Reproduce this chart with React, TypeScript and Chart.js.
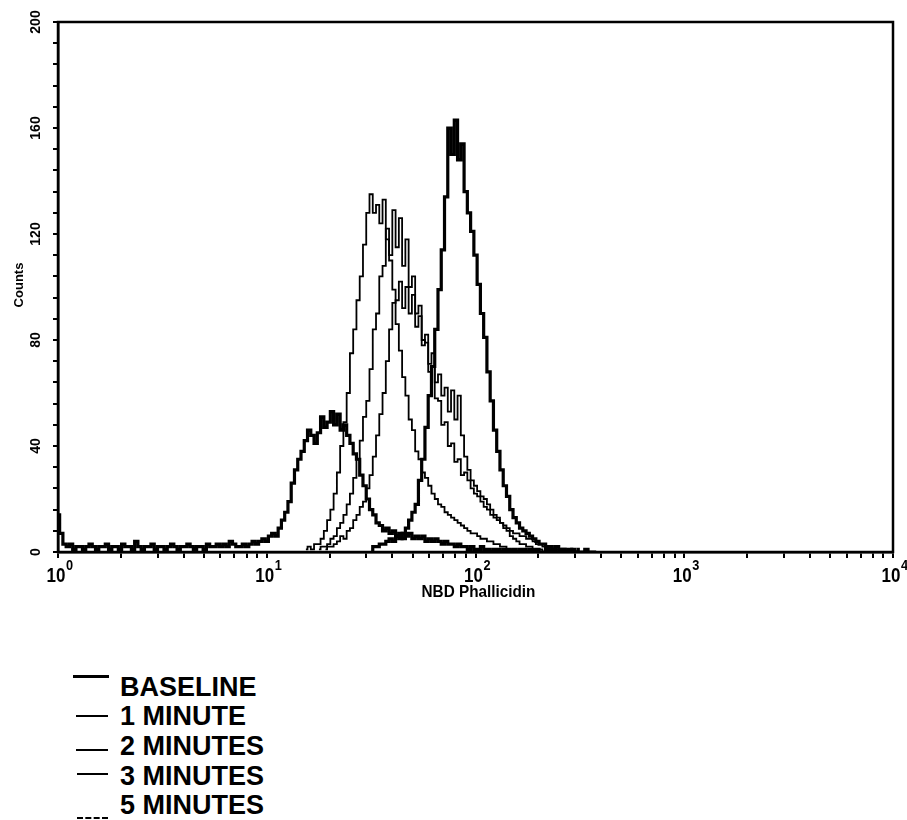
import React, { useEffect, useRef } from 'react';
import { Chart, registerables } from 'chart.js';

Chart.register(...registerables);

// ---------------- data ----------------
const SERIES_LABELS = ['BASELINE', '1 MINUTE', '2 MINUTES', '3 MINUTES', '5 MINUTES'];
const X_TITLE = 'NBD Phallicidin';
const Y_TITLE = 'Counts';

// 256-channel log histogram: 64 channels per decade, 4 decades (10^0 .. 10^4)
const CHANNELS_PER_DECADE = 64;

const BASELINE_START = 0;
const BASELINE_COUNTS = [
  14, 7, 3, 2, 3, 1, 2, 2, 1, 2, 3, 2, 1, 2, 2, 3, 1, 2, 2, 1,
  3, 2, 2, 1, 4, 2, 1, 2, 2, 3, 1, 2, 2, 1, 2, 3, 2, 1, 2, 2,
  3, 2, 1, 2, 2, 1, 3, 2, 2, 3, 2, 3, 2, 4, 3, 2,
  2, 3, 2, 3, 4, 3, 4, 5, 4, 6,
  7, 6, 9, 12, 15, 19, 26, 31, 35, 38,
  42, 46, 44, 41, 45, 51, 47, 49, 53, 48,
  52, 46, 48, 44, 41, 37, 35, 29, 25, 20,
  16, 14, 11, 10, 8, 9, 7, 8, 6, 7,
  5, 6, 7, 5, 6, 5, 6, 4, 5, 4,
  5, 4, 3, 4, 3, 3, 2, 3, 2, 2,
  1, 2, 1, 1, 2, 1, 1, 0, 1, 1,
  0, 1, 1, 0, 1, 0, 1, 1, 0, 1,
  0, 1, 0, 0, 1, 0, 1, 0, 0, 1,
  0, 0, 1, 0, 0, 0, 1, 0, 0, 0,
];

const MIN1_START = 96;
const MIN1_COUNTS = [
  1, 2, 2, 3, 3, 4, 5, 4, 6, 5,
  7, 9, 12, 15, 18, 27, 35, 47, 59, 70,
  84, 99, 114, 134, 160, 150, 163, 148, 154, 136,
  128, 121, 112, 101, 90, 81, 68, 57, 46, 38,
  31, 25, 21, 16, 13, 11, 9, 8, 7, 6,
  5, 4, 3, 3, 2, 2, 1, 2, 1, 1,
  0, 1, 0, 0, 1,
];

const MIN2_START = 82;
const MIN2_COUNTS = [
  1, 2, 2, 3, 4, 6, 5, 8, 9, 12,
  14, 17, 19, 24, 29, 36, 44, 52, 60, 72,
  84, 94, 95, 102, 92, 100, 90, 97, 85, 89,
  78, 82, 71, 75, 64, 67, 59, 62, 53, 61,
  50, 59, 44, 36, 31, 27, 25, 23, 21, 20,
  18, 16, 14, 13, 11, 9, 8, 6, 5, 4,
  3, 3, 2, 2, 1, 1, 1, 0, 0,
];

const MIN3_START = 80;
const MIN3_COUNTS = [
  1, 2, 2, 3, 5, 6, 9, 11, 14, 18,
  22, 28, 35, 42, 51, 57, 69, 84, 90, 104,
  108, 122, 112, 129, 115, 126, 108, 118, 100, 104,
  90, 93, 80, 79, 68, 70, 58, 57, 48, 49,
  40, 41, 34, 35, 29, 30, 27, 24, 22, 21,
  19, 17, 16, 14, 13, 12, 11, 10, 9, 8,
  7, 7, 6, 6, 5, 5, 4, 3, 3, 2,
  2, 1, 1, 1, 0, 0,
];

const MIN5_START = 76;
const MIN5_COUNTS = [
  1, 2, 1, 3, 3, 5, 8, 12, 16, 22,
  30, 40, 49, 60, 75, 84, 95, 104, 116, 128,
  135, 128, 131, 124, 133, 118, 110, 99, 86, 76,
  66, 59, 50, 46, 38, 35, 30, 28, 25, 22,
  20, 18, 17, 15, 14, 13, 12, 11, 10, 9,
  8, 7, 7, 6, 5, 5, 4, 4, 3, 3,
  2, 2, 1, 1, 1, 0, 0, 1, 0, 0,
];

const Y_MIN = 0;
const Y_MAX = 200;
const Y_MINOR_STEP = 8;
const Y_TICK_LABELS = [0, 40, 80, 120, 160, 200];
const X_DECADE_EXPONENTS = [0, 1, 2, 3, 4];
const X_MANTISSAS = [1, 2, 3, 4, 5, 6, 7, 8, 9];

// ---------------- helpers ----------------
const FONT = '"Liberation Sans", Arial, Helvetica, sans-serif';

function toPoints(start: number, counts: number[]) {
  return counts.map((c, i) => ({ x: Math.pow(10, (start + i) / CHANNELS_PER_DECADE), y: c }));
}

function xTickValues(): number[] {
  const vals: number[] = [];
  for (let d = 0; d < X_DECADE_EXPONENTS.length - 1; d++) {
    for (const m of X_MANTISSAS) vals.push(m * Math.pow(10, X_DECADE_EXPONENTS[d]));
  }
  vals.push(Math.pow(10, X_DECADE_EXPONENTS[X_DECADE_EXPONENTS.length - 1]));
  return vals;
}

function yTickValues(): number[] {
  const vals: number[] = [];
  for (let v = Y_MIN; v <= Y_MAX; v += Y_MINOR_STEP) vals.push(v);
  return vals;
}

const decorPlugin = {
  id: 'flowDecor',
  afterDraw(chart: any) {
    const { ctx, chartArea, scales } = chart;
    const { left, top, right, bottom } = chartArea;
    const xs = scales.x;
    const ys = scales.y;
    ctx.save();
    ctx.strokeStyle = '#000';
    ctx.lineWidth = 2.5;
    ctx.strokeRect(left, top, right - left, bottom - top);

    ctx.fillStyle = '#000';
    ctx.textAlign = 'center';
    ctx.textBaseline = 'middle';

    // y tick labels (rotated)
    ctx.font = `bold 14px ${FONT}`;
    Y_TICK_LABELS.forEach((v) => {
      const py = ys.getPixelForValue(v);
      ctx.save();
      ctx.translate(left - 22, py);
      ctx.rotate(-Math.PI / 2);
      ctx.fillText(String(v), 0, 0);
      ctx.restore();
    });

    // y title
    ctx.font = `bold 13px ${FONT}`;
    ctx.save();
    ctx.translate(19, 285);
    ctx.rotate(-Math.PI / 2);
    ctx.fillText(Y_TITLE, 0, 0);
    ctx.restore();

    // x tick labels 10^n
    X_DECADE_EXPONENTS.forEach((e) => {
      const px = xs.getPixelForValue(Math.pow(10, e));
      ctx.save();
      ctx.translate(px - 2, bottom + 24);
      ctx.scale(0.85, 1);
      ctx.font = `bold 20px ${FONT}`;
      ctx.textAlign = 'center';
      ctx.fillText('10', 0, 0);
      ctx.restore();
      ctx.save();
      ctx.translate(px + 8, bottom + 14);
      ctx.scale(0.85, 1);
      ctx.font = `bold 15px ${FONT}`;
      ctx.textAlign = 'left';
      ctx.fillText(String(e), 0, 0);
      ctx.restore();
    });

    // x title
    ctx.save();
    ctx.translate((left + right) / 2 + 3, bottom + 40);
    ctx.scale(0.9, 1);
    ctx.font = `bold 17px ${FONT}`;
    ctx.textAlign = 'center';
    ctx.fillText(X_TITLE, 0, 0);
    ctx.restore();

    ctx.restore();
  },
};

const SERIES = [
  { start: BASELINE_START, counts: BASELINE_COUNTS, width: 3.2 },
  { start: MIN1_START, counts: MIN1_COUNTS, width: 3.2 },
  { start: MIN2_START, counts: MIN2_COUNTS, width: 1.8 },
  { start: MIN3_START, counts: MIN3_COUNTS, width: 1.8 },
  { start: MIN5_START, counts: MIN5_COUNTS, width: 1.8 },
];

const LEGEND_LAYOUT = [
  { textY: 687, lineY: 676, lineX0: 73, lineX1: 109, lw: 3, dash: false },
  { textY: 716, lineY: 716, lineX0: 76, lineX1: 108, lw: 2, dash: false },
  { textY: 746, lineY: 750, lineX0: 76, lineX1: 108, lw: 2, dash: false },
  { textY: 776, lineY: 774, lineX0: 77, lineX1: 108, lw: 2, dash: false },
  { textY: 805, lineY: 818, lineX0: 77, lineX1: 108, lw: 2.5, dash: true },
];

export default function App() {
  const canvasRef = useRef<HTMLCanvasElement>(null);

  useEffect(() => {
    const canvas = canvasRef.current;
    if (!canvas) return;
    const chart = new Chart(canvas, {
      type: 'line',
      data: {
        datasets: SERIES.map((s, i) => ({
          label: SERIES_LABELS[i],
          data: toPoints(s.start, s.counts),
          borderColor: '#000',
          backgroundColor: '#000',
          borderWidth: s.width,
          pointRadius: 0,
          stepped: 'middle' as const,
          fill: false,
          tension: 0,
        })),
      },
      options: {
        responsive: false,
        animation: false,
        events: [],
        layout: { padding: { left: 0, top: 22, right: 14, bottom: 0 } },
        plugins: {
          legend: { display: false },
          tooltip: { enabled: false },
          title: { display: false },
        },
        scales: {
          x: {
            type: 'logarithmic',
            min: 1,
            max: 10000,
            ticks: { display: false },
            grid: {
              display: true,
              drawOnChartArea: false,
              drawTicks: true,
              tickLength: 6,
              color: '#000',
              lineWidth: 2,
            },
            border: { display: true, color: '#000', width: 2.5 },
            afterBuildTicks: (scale: any) => {
              scale.ticks = xTickValues().map((v) => ({ value: v }));
            },
            afterFit: (scale: any) => {
              scale.height = 68;
            },
          },
          y: {
            type: 'linear',
            min: Y_MIN,
            max: Y_MAX,
            ticks: { display: false, stepSize: Y_MINOR_STEP },
            grid: {
              display: true,
              drawOnChartArea: false,
              drawTicks: true,
              tickLength: 5,
              color: '#000',
              lineWidth: 2,
            },
            border: { display: true, color: '#000', width: 2.5 },
            afterBuildTicks: (scale: any) => {
              scale.ticks = yTickValues().map((v) => ({ value: v }));
            },
            afterFit: (scale: any) => {
              scale.width = 58;
            },
          },
        },
      },
      plugins: [decorPlugin],
    });
    return () => chart.destroy();
  }, []);

  return (
    <div
      style={{
        position: 'absolute',
        left: 0,
        top: 0,
        width: 907,
        height: 820,
        background: '#fff',
        overflow: 'hidden',
      }}
    >
      <canvas ref={canvasRef} width={907} height={620} style={{ display: 'block', width: 907, height: 620 }} />
      {SERIES_LABELS.map((label, i) => {
        const L = LEGEND_LAYOUT[i];
        return (
          <React.Fragment key={label}>
            <div
              style={{
                position: 'absolute',
                left: L.lineX0,
                top: L.lineY - L.lw / 2,
                width: L.lineX1 - L.lineX0,
                height: 0,
                borderTop: `${L.lw}px ${L.dash ? 'dashed' : 'solid'} #000`,
              }}
            />
            <div
              style={{
                position: 'absolute',
                left: 120,
                top: L.textY - 13,
                font: `bold 27px ${FONT}`,
                lineHeight: '27px',
                color: '#000',
                whiteSpace: 'nowrap',
              }}
            >
              {label}
            </div>
          </React.Fragment>
        );
      })}
    </div>
  );
}
